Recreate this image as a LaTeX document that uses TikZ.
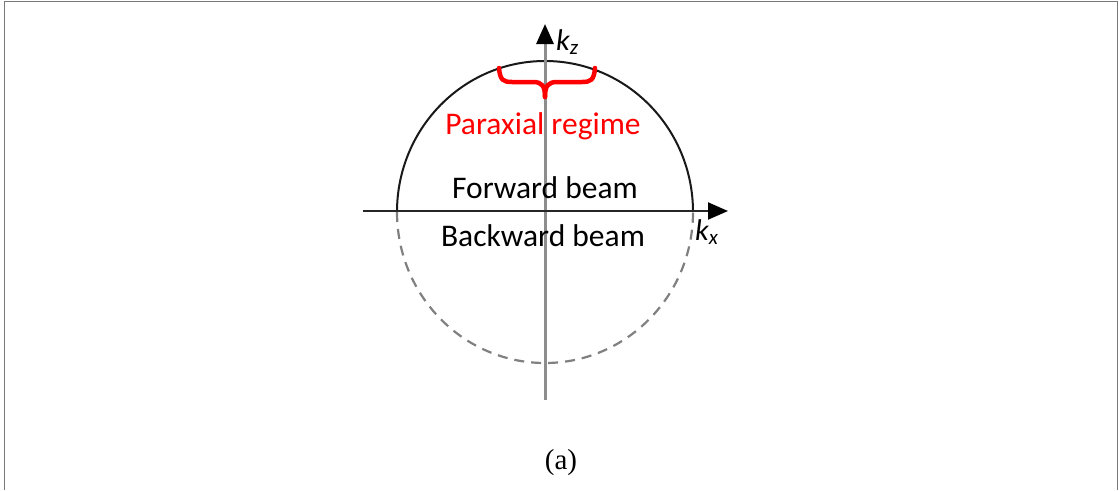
\documentclass[tikz,border=0pt]{standalone}
\usepackage{fontspec}
\setmainfont{Liberation Serif}
\newfontfamily\labelfont{Carlito}
\usetikzlibrary{arrows.meta}
\definecolor{framegray}{RGB}{120,120,120}
\definecolor{axisgray}{RGB}{128,128,128}
\definecolor{parared}{RGB}{255,0,0}
\tikzset{
  frameline/.style={draw=framegray, line width=1.5pt},
  tip/.style={-{Triangle[length=20pt,width=17pt,fill=black,color=black]}},
  beamtext/.style={font=\labelfont\fontsize{31.5}{36}\selectfont, inner sep=0pt},
  axislabel/.style={font=\labelfont\itshape\fontsize{30}{36}\selectfont, inner sep=0pt},
  bracestyle/.style={draw=parared, line width=4.5pt, line cap=round, line join=round},
}
\begin{document}
\begin{tikzpicture}[x=1pt,y=-1pt]
\useasboundingbox (0,0) rectangle (1119,490);
\fill[white] (0,0) rectangle (1119,490);
% frame
\draw[frameline] (4.5,490) -- (4.5,1.5) -- (1117.5,1.5) -- (1117.5,490);
% circle: solid upper half, dashed lower half
\coordinate (c) at (545,212);
\draw[line width=2pt, black!90] (c) ++(-148,0) arc[start angle=180, end angle=0, x radius=148, y radius=-151];
\draw[line width=2.2pt, axisgray, dash pattern=on 10pt off 7pt] (c) ++(-148,0) arc[start angle=180, end angle=360, x radius=148, y radius=-151];
% axes
\coordinate (zbot) at (545,400);
\coordinate (ztop) at (545,24);
\coordinate (xleft) at (363,211);
\coordinate (xright) at (728,211);
\draw[tip, line width=3pt, draw=axisgray!90] (zbot) -- (ztop);
\draw[tip, line width=2pt, draw=black!85] (xleft) -- (xright);
% brace
\draw[bracestyle] (499,68) .. controls (500,80) and (503,82) .. (512,82) -- (533,82) .. controls (542,82) and (545,86) .. (545,97);
\draw[bracestyle] (595,68) .. controls (594,80) and (591,82) .. (582,82) -- (557,82) .. controls (548,82) and (545,86) .. (545,97);
% labels
\node[axislabel, anchor=west] (kz) at (556,42) {k\textsubscript{z}};
\node[axislabel, anchor=west] (kx) at (695,232) {k\textsubscript{x}};
\node[beamtext, text=parared] (para) at (543,126) {Paraxial regime};
\node[beamtext] (fwd) at (545,188) {Forward beam};
\node[beamtext] (bwd) at (543,236) {Backward beam};
\node[font=\fontsize{29}{34}\selectfont, inner sep=0pt] (cap) at (561,463) {(a)};
\end{tikzpicture}
\end{document}
